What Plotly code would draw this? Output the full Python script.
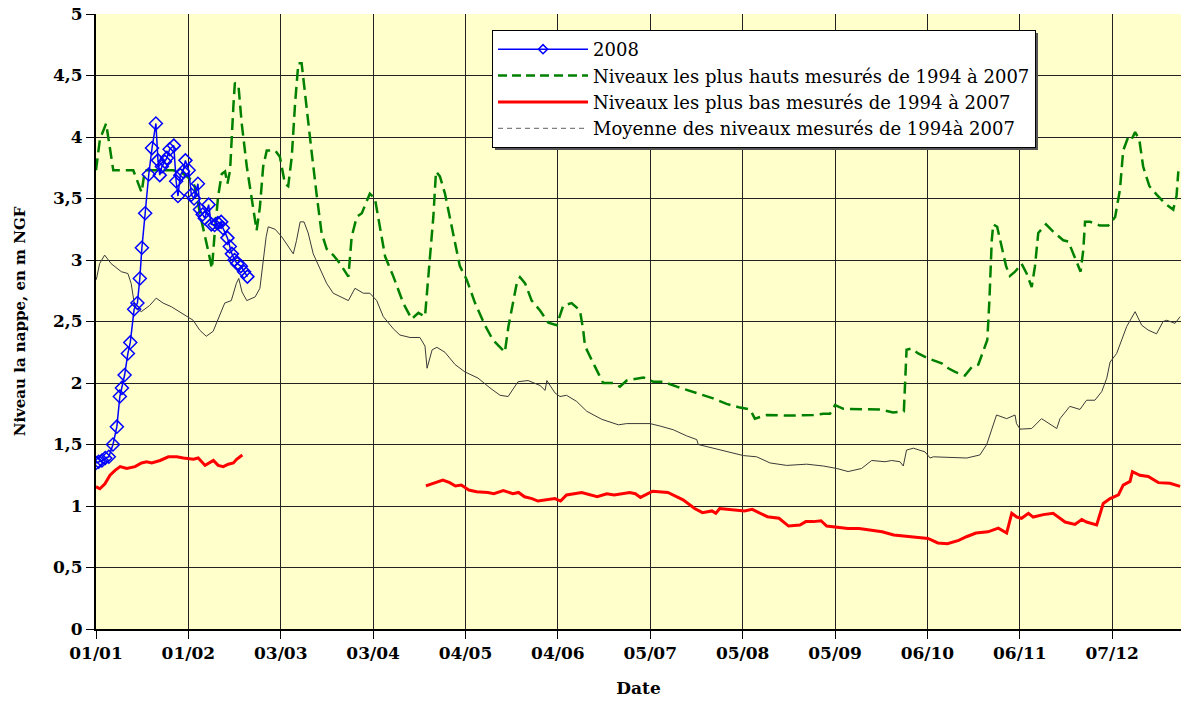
import pandas as pd
import plotly.graph_objects as go

# ---- data (days since 01/01/2008, values in m NGF) ----
tick_days = [0, 31, 62, 93, 124, 155, 186, 217, 248, 279, 310, 341]
tick_labels = ["01/01", "01/02", "03/03", "03/04", "04/05", "04/06",
               "05/07", "05/08", "05/09", "06/10", "06/11", "07/12"]
y_ticks = [0, 0.5, 1, 1.5, 2, 2.5, 3, 3.5, 4, 4.5, 5]
y_labels = ["0", "0,5", "1", "1,5", "2", "2,5", "3", "3,5", "4", "4,5", "5"]

days_2008 = [0.0, 0.9, 2.0, 3.1, 4.3, 5.7, 7.0, 8.0, 8.7, 9.6, 10.7, 11.5, 12.8,
             13.9, 14.7, 15.4, 16.5, 17.7, 18.8, 20.1, 20.8, 21.4, 22.1, 23.1,
             23.8, 24.7, 26.1, 26.9, 27.5, 28.3, 29.2, 30.0, 31.1, 32.0, 32.9,
             34.2, 34.9, 35.8, 36.5, 37.8, 38.7, 39.8, 40.9, 42.0, 42.6, 44.1,
             44.9, 45.6, 46.5, 47.4, 48.6, 49.7, 50.8]
vals_2008 = [1.35, 1.36, 1.37, 1.39, 1.40, 1.50, 1.645, 1.89, 1.96, 2.065, 2.24,
             2.33, 2.60, 2.65, 2.85, 3.10, 3.38, 3.695, 3.91, 4.11, 3.81, 3.69,
             3.76, 3.80, 3.83, 3.90, 3.93, 3.64, 3.52, 3.69, 3.72, 3.81, 3.73,
             3.53, 3.50, 3.62, 3.41, 3.37, 3.34, 3.45, 3.29, 3.285, 3.30, 3.31,
             3.26, 3.18, 3.11, 3.05, 3.00, 2.97, 2.95, 2.905, 2.865]

days_max = [0, 1.3, 3.4, 5.8, 12.5, 15.3, 16.4, 25.9, 28.8, 32.1, 33.1, 35.3,
            37.6, 38.9, 39.9, 41.0, 42.2, 43.3, 44.1, 45.0, 46.1, 46.6, 47.8,
            48.9, 50.6, 52.2, 53.9, 55.0, 56.1, 57.3, 60.1, 61.7, 63.4, 64.5,
            65.7, 66.8, 67.9, 69.0, 70.5, 72.4, 74.1, 75.7, 77.4, 79.6, 81.9,
            84.7, 85.8, 87.5, 89.2, 91.9, 93.6, 95.3, 97.0, 99.8, 103.1, 105.9,
            108.2, 110.4, 112.1, 113.2, 114.1, 115.4, 117.1, 119.4, 122.1,
            124.4, 127.2, 130.5, 133.2, 137.2, 138.4, 141.2, 142.3, 144.0,
            146.2, 149.0, 151.8, 154.6, 156.8, 159.6, 162.4, 163.5, 164.1,
            166.9, 170.2, 173.6, 175.8, 178.1, 183.7, 187.0, 190.4, 194.9,
            200.4, 202.7, 207.1, 211.6, 216.1, 219.5, 221.1, 225.1, 234.0,
            240.7, 244.1, 246.3, 248.0, 250.8, 256.4, 263.1, 267.5, 271.1,
            272.0, 273.7, 275.9, 279.3, 283.8, 286.0, 288.3, 291.6, 293.9,
            296.1, 299.1, 299.8, 300.6, 301.1, 302.4, 303.9, 305.4, 306.7,
            308.4, 310.6, 312.3, 314.0, 315.1, 316.2, 318.8, 321.2, 324.6,
            326.3, 327.9, 330.4, 331.3, 331.9, 333.6, 336.9, 339.7, 342.0,
            343.6, 344.7, 346.4, 347.5, 348.7, 350.1, 351.4, 353.5, 356.0,
            358.7, 361.5, 362.6, 363.2]
vals_max = [3.73, 3.98, 4.11, 3.73, 3.73, 3.55, 3.73, 3.73, 3.71, 3.65, 3.60,
            3.33, 3.08, 2.93, 3.24, 3.52, 3.70, 3.72, 3.62, 3.73, 4.25, 4.44,
            4.42, 4.11, 3.76, 3.49, 3.24, 3.43, 3.76, 3.89, 3.89, 3.84, 3.62,
            3.60, 3.84, 4.27, 4.60, 4.60, 4.30, 3.87, 3.52, 3.22, 3.09, 3.04,
            2.97, 2.865, 3.19, 3.35, 3.38, 3.54, 3.50, 3.27, 3.03, 2.865, 2.65,
            2.52, 2.57, 2.54, 3.00, 3.35, 3.72, 3.68, 3.54, 3.27, 2.95, 2.84,
            2.65, 2.47, 2.35, 2.25, 2.46, 2.81, 2.86, 2.81, 2.67, 2.59, 2.49,
            2.47, 2.63, 2.65, 2.59, 2.43, 2.30, 2.16, 2.00, 2.00, 1.97, 2.02,
            2.045, 2.01, 2.01, 1.97, 1.93, 1.91, 1.875, 1.83, 1.80, 1.785,
            1.71, 1.74, 1.735, 1.74, 1.75, 1.75, 1.82, 1.79, 1.79, 1.785, 1.76,
            1.77, 2.27, 2.28, 2.24, 2.20, 2.16, 2.12, 2.09, 2.06, 2.13, 2.15,
            2.35, 2.67, 3.16, 3.29, 3.27, 3.11, 2.95, 2.87, 2.905, 2.97, 2.89,
            2.78, 2.95, 3.22, 3.29, 3.23, 3.16, 3.15, 3.05, 2.905, 3.08, 3.31,
            3.31, 3.28, 3.28, 3.35, 3.57, 3.89, 4.00, 3.98, 4.04, 3.98, 3.76,
            3.60, 3.53, 3.46, 3.41, 3.52, 3.72]

days_min_a = [0, 1.3, 3.0, 4.7, 6.4, 8.1, 10.3, 13.1, 15.3, 17.0, 18.7, 21.5,
              24.3, 27.1, 29.3, 32.7, 34.3, 36.6, 39.4, 41.0, 42.7, 44.4, 46.1,
              47.2, 49.1]
vals_min_a = [1.157, 1.14, 1.18, 1.25, 1.29, 1.32, 1.305, 1.32, 1.35, 1.36,
              1.35, 1.37, 1.40, 1.40, 1.39, 1.38, 1.39, 1.33, 1.37, 1.33, 1.32,
              1.34, 1.35, 1.38, 1.415]
days_min_b = [110.7, 113.6, 116.4, 118.7, 120.6, 122.6, 125.1, 127.7, 131.5,
              133.5, 136.7, 139.9, 141.8, 143.8, 146.3, 148.3, 151.4, 154.0,
              155.9, 157.9, 163.0, 168.2, 171.4, 173.9, 179.1, 181.0, 182.7,
              186.8, 191.9, 197.0, 200.9, 203.5, 206.7, 208.0, 209.3, 213.8,
              217.6, 220.2, 225.3, 229.2, 232.4, 236.2, 238.2, 240.7, 243.3,
              245.2, 248.4, 252.3, 256.1, 260.0, 263.8, 267.7, 272.8, 279.2,
              282.5, 285.7, 289.5, 292.1, 295.3, 299.3, 302.8, 305.6, 307.3,
              309.0, 310.6, 312.9, 314.5, 317.9, 321.2, 325.2, 328.5, 330.8,
              332.4, 335.8, 338.0, 340.3, 343.1, 344.7, 347.0, 347.8, 350.3,
              353.1, 356.5, 360.4, 363.8]
vals_min_b = [1.163, 1.19, 1.21, 1.19, 1.163, 1.17, 1.13, 1.116, 1.11, 1.10,
              1.125, 1.10, 1.11, 1.075, 1.06, 1.04, 1.05, 1.06, 1.04, 1.09,
              1.11, 1.075, 1.10, 1.09, 1.11, 1.10, 1.07, 1.12, 1.11, 1.05, 0.98,
              0.946, 0.96, 0.94, 0.98, 0.967, 0.96, 0.973, 0.913, 0.90, 0.837,
              0.846, 0.873, 0.873, 0.88, 0.837, 0.83, 0.817, 0.817, 0.805, 0.79,
              0.764, 0.75, 0.736, 0.70, 0.694, 0.72, 0.75, 0.78, 0.79, 0.82,
              0.78, 0.94, 0.91, 0.90, 0.94, 0.91, 0.93, 0.94, 0.87, 0.85, 0.89,
              0.87, 0.846, 1.02, 1.06, 1.09, 1.17, 1.20, 1.28, 1.25, 1.24, 1.19,
              1.185, 1.16]

days_mean = [0.1, 1.2, 2.9, 5.1, 8.5, 10.7, 11.8, 13.0, 15.2, 18.0, 20.2, 22.5,
             25.3, 28.1, 30.9, 32.6, 34.8, 37.0, 39.3, 41.5, 43.2, 45.4, 47.1,
             47.9, 49.0, 50.6, 53.4, 55.0, 55.9, 57.1, 57.8, 60.1, 62.3, 64.5,
             66.2, 67.3, 68.5, 69.8, 71.2, 72.9, 75.2, 77.4, 79.6, 81.9, 84.7,
             86.9, 89.7, 91.9, 94.2, 96.4, 99.8, 102.0, 105.4, 108.7, 110.4,
             111.1, 112.8, 114.4, 117.1, 120.5, 123.8, 128.2, 132.2, 135.6,
             138.3, 141.6, 145.0, 149.0, 150.7, 151.3, 154.0, 155.7, 157.9,
             161.3, 164.7, 169.7, 175.3, 178.1, 185.9, 189.3, 193.7, 198.2,
             201.6, 202.1, 207.2, 211.6, 217.2, 221.7, 226.2, 231.8, 238.5,
             244.1, 248.6, 252.4, 256.9, 260.3, 264.8, 267.0, 269.8, 270.9,
             272.0, 274.3, 278.2, 279.9, 281.0, 292.2, 296.6, 298.9, 300.6,
             302.2, 305.6, 308.4, 308.9, 310.1, 314.0, 317.3, 322.4, 323.5,
             326.8, 330.2, 332.4, 335.2, 337.5, 339.2, 340.3, 342.5, 344.2,
             345.9, 348.7, 350.9, 353.1, 355.9, 358.1, 359.3, 362.1, 363.8]
vals_mean = [2.84, 2.97, 3.04, 2.97, 2.905, 2.89, 2.81, 2.62, 2.58, 2.63, 2.69,
             2.65, 2.62, 2.58, 2.54, 2.51, 2.43, 2.38, 2.42, 2.55, 2.65, 2.67,
             2.81, 2.85, 2.74, 2.67, 2.70, 2.77, 2.95, 3.19, 3.27, 3.25, 3.19,
             3.11, 3.05, 3.16, 3.31, 3.31, 3.22, 3.05, 2.92, 2.81, 2.73, 2.70,
             2.67, 2.77, 2.73, 2.73, 2.67, 2.54, 2.44, 2.39, 2.37, 2.37, 2.30,
             2.12, 2.27, 2.29, 2.25, 2.15, 2.09, 2.04, 1.96, 1.90, 1.89, 2.01,
             2.02, 1.98, 1.94, 2.02, 1.92, 1.89, 1.90, 1.85, 1.77, 1.705, 1.66,
             1.67, 1.67, 1.65, 1.62, 1.57, 1.54, 1.50, 1.47, 1.44, 1.41, 1.40,
             1.35, 1.33, 1.34, 1.325, 1.305, 1.28, 1.305, 1.37, 1.36, 1.37,
             1.36, 1.325, 1.455, 1.47, 1.44, 1.39, 1.40, 1.39, 1.415, 1.50,
             1.63, 1.74, 1.71, 1.74, 1.67, 1.625, 1.63, 1.71, 1.63, 1.71, 1.81,
             1.785, 1.86, 1.86, 1.93, 2.04, 2.17, 2.24, 2.35, 2.46, 2.58, 2.47,
             2.43, 2.40, 2.50, 2.51, 2.485, 2.54]

names = ["2008",
         "Niveaux les plus hauts mesurés de 1994 à 2007",
         "Niveaux les plus bas mesurés de 1994 à 2007",
         "Moyenne des niveaux mesurés de 1994à 2007"]

# ---- helpers ----
start = pd.Timestamp("2008-01-01")


def to_dates(days):
    return list(start + pd.to_timedelta(days, unit="D"))


x_min = to_dates(days_min_a) + [start + pd.Timedelta(days=80)] + to_dates(days_min_b)
y_min = vals_min_a + [None] + vals_min_b

FONT = "DejaVu Serif, serif"

fig = go.Figure()
fig.add_trace(go.Scatter(
    x=to_dates(days_mean), y=vals_mean, mode="lines", name=names[3],
    line=dict(color="#3a3a3a", width=1), showlegend=False))
fig.add_trace(go.Scatter(
    x=to_dates(days_max), y=vals_max, mode="lines", name=names[1],
    line=dict(color="#008000", width=2.5, dash="12px,6px"), showlegend=False))
fig.add_trace(go.Scatter(
    x=x_min, y=y_min, mode="lines", name=names[2], connectgaps=False,
    line=dict(color="#FF0000", width=3), showlegend=False))
fig.add_trace(go.Scatter(
    x=to_dates(days_2008), y=vals_2008, mode="lines+markers", name=names[0],
    line=dict(color="#0000FF", width=1.5),
    marker=dict(symbol="diamond-open", size=10, color="#0000FF",
                line=dict(width=1.5, color="#0000FF")),
    showlegend=False))

# legend entries (in reference order)
fig.add_trace(go.Scatter(x=[None], y=[None], mode="lines+markers", name=names[0],
                         line=dict(color="#0000FF", width=1.5),
                         marker=dict(symbol="diamond-open", size=7, color="#0000FF",
                                     line=dict(width=1.5, color="#0000FF"))))
fig.add_trace(go.Scatter(x=[None], y=[None], mode="lines", name=names[1],
                         line=dict(color="#008000", width=2.5, dash="9px,5px")))
fig.add_trace(go.Scatter(x=[None], y=[None], mode="lines", name=names[2],
                         line=dict(color="#FF0000", width=3)))
fig.add_trace(go.Scatter(x=[None], y=[None], mode="lines", name=names[3],
                         line=dict(color="#808080", width=1.2, dash="5px,4px")))

PLOT_W, PLOT_H = 1085, 615   # plot-area size in px (for the legend shadow)

fig.update_layout(
    width=1181, height=702,
    margin=dict(l=96, r=0, t=14, b=73),
    paper_bgcolor="white",
    plot_bgcolor="#FFFFCC",
    font=dict(family=FONT, color="black"),
    showlegend=True,
    legend=dict(
        x=0.365, y=0.974, xanchor="left", yanchor="top",
        bgcolor="white", bordercolor="black", borderwidth=1,
        font=dict(family=FONT, size=18, color="black"),
        itemwidth=90, traceorder="normal",
    ),
    shapes=[dict(
        type="rect", xref="paper", yref="paper", layer="above",
        x0=399 / PLOT_W, x1=942 / PLOT_W,
        y0=1 - 136 / PLOT_H, y1=1 - 19 / PLOT_H,
        fillcolor="#555555", line=dict(width=0),
    )],
)

fig.update_xaxes(
    type="date", automargin=False,
    range=[start, start + pd.Timedelta(days=364.1)],
    tickvals=to_dates(tick_days), ticktext=tick_labels,
    tickfont=dict(family=FONT, size=17, color="black", weight="bold"),
    ticks="outside", ticklen=8, tickcolor="black", tickwidth=1,
    ticklabeloverflow="allow",
    showgrid=True, gridcolor="#222222", gridwidth=1,
    showline=True, linecolor="black", linewidth=2,
    zeroline=False,
    title=dict(text="<b>Date</b>", font=dict(family=FONT, size=17, color="black"),
               standoff=20),
)
fig.update_yaxes(
    automargin=False,
    range=[0, 5],
    tickvals=y_ticks, ticktext=y_labels,
    tickfont=dict(family=FONT, size=17, color="black", weight="bold"),
    ticks="outside", ticklen=8, tickcolor="black", tickwidth=1,
    ticklabeloverflow="allow",
    showgrid=True, gridcolor="#222222", gridwidth=1,
    showline=True, linecolor="black", linewidth=2,
    zeroline=False,
    title=dict(text="<b>Niveau la nappe, en m NGF</b>",
               font=dict(family=FONT, size=15, color="black"), standoff=24),
)

# remove the page's default 8px body margin so the figure sits at the corner
fig.write_html("out.html",
               config={"displayModeBar": False},
               post_script="document.body.style.margin='0';"
                           "document.body.style.overflow='hidden';")
